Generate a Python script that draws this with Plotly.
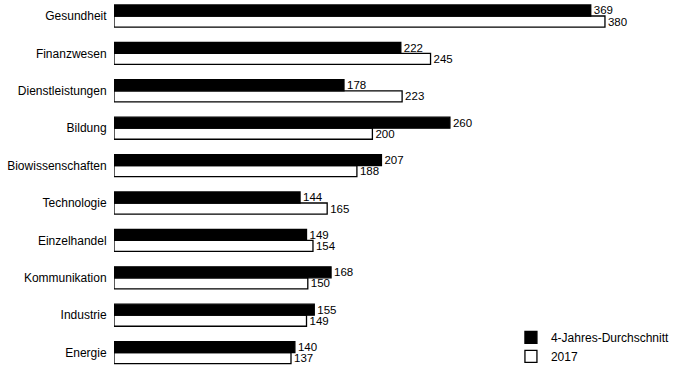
import plotly.graph_objects as go

categories = ["Gesundheit", "Finanzwesen", "Dienstleistungen", "Bildung", "Biowissenschaften",
              "Technologie", "Einzelhandel", "Kommunikation", "Industrie", "Energie"]
avg4 = [369, 222, 178, 260, 207, 144, 149, 168, 155, 140]
y2017 = [380, 245, 223, 200, 188, 165, 154, 150, 149, 137]

cats = categories[::-1]
a = avg4[::-1]
b = y2017[::-1]

font = "Liberation Sans, Arial, sans-serif"

fig = go.Figure()
fig.add_trace(go.Bar(y=cats, x=b, orientation="h", name="2017",
                     marker=dict(color="white", line=dict(color="black", width=1.3)),
                     text=[str(v) for v in b], textposition="outside", cliponaxis=False,
                     constraintext="none",
                     textfont=dict(size=11.5, color="black", family=font)))
fig.add_trace(go.Bar(y=cats, x=a, orientation="h", name="4-Jahres-Durchschnitt",
                     marker=dict(color="black", line=dict(color="black", width=1.3)),
                     text=[str(v) for v in a], textposition="outside", cliponaxis=False,
                     constraintext="none",
                     textfont=dict(size=11.5, color="black", family=font)))

fig.update_layout(
    width=677, height=366,
    margin=dict(l=114, r=17, t=0, b=0, autoexpand=False),
    barmode="group", bargap=0.41, bargroupgap=0,
    plot_bgcolor="white", paper_bgcolor="white",
    font=dict(family=font, size=12, color="black"),
    xaxis=dict(range=[0, 422.6], showgrid=False, showticklabels=False, zeroline=False,
               showline=False, ticks="", automargin=False),
    yaxis=dict(categoryorder="array", categoryarray=cats, range=[-0.358, 9.428],
               showgrid=False, zeroline=False, showline=False, ticks="outside",
               ticklen=4, tickcolor="white", tickfont=dict(size=12, family=font),
               automargin=False),
    legend=dict(x=0.727, y=0.118, xanchor="left", yanchor="top", traceorder="reversed",
                font=dict(size=12, family=font), bgcolor="rgba(0,0,0,0)",
                itemwidth=30, tracegroupgap=0),
    showlegend=True,
    hovermode=False,
)

fig.write_html("out.html", config={"displayModeBar": False},
               post_script="document.body.style.margin='0';document.body.style.overflow='hidden';")
